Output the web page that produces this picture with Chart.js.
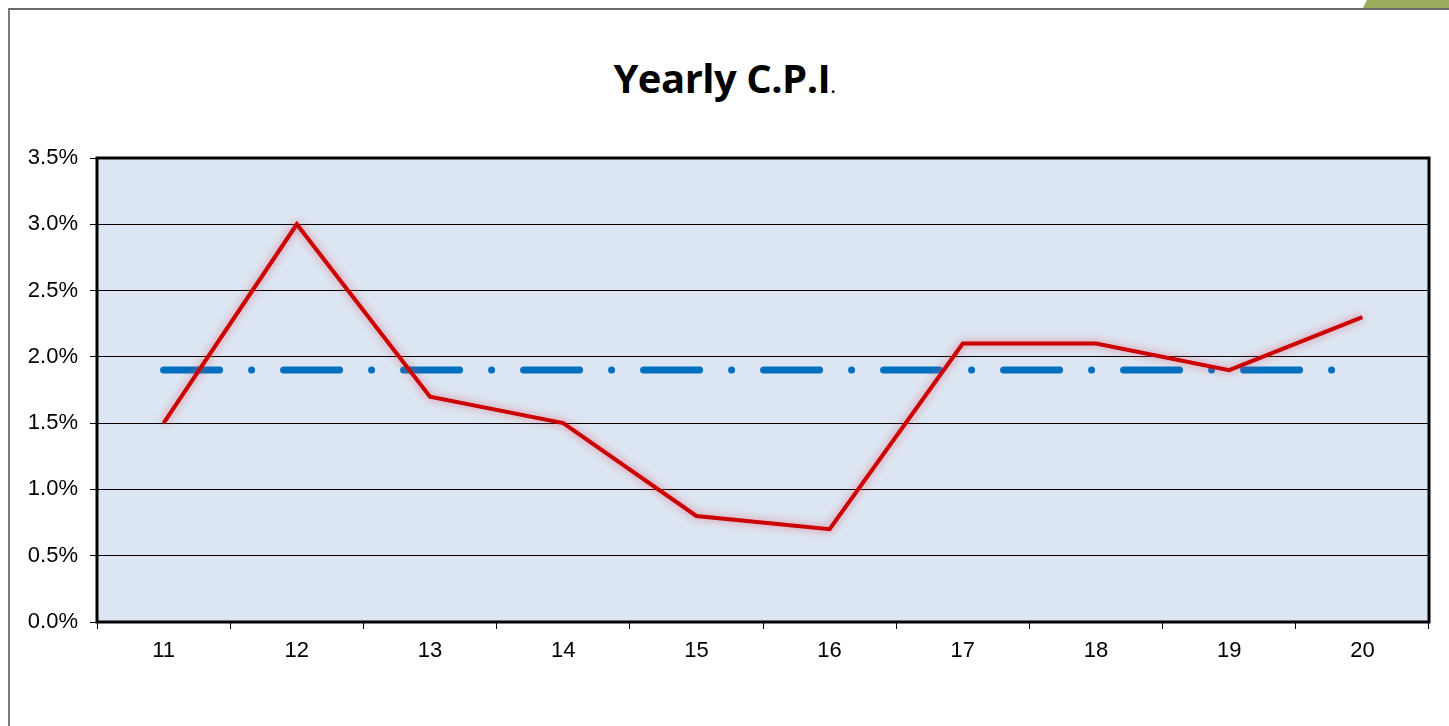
<!DOCTYPE html>
<html>
<head>
<meta charset="utf-8">
<script src="https://cdn.jsdelivr.net/npm/chart.js@4"></script>
<style>
  html, body { margin: 0; padding: 0; background: #fff; }
  #wrap { position: relative; width: 1449px; height: 726px; overflow: hidden; }
  #frame { position: absolute; left: 8px; top: 8px; width: 1460px; height: 740px;
           border-left: 2px solid #7a7a7a; border-top: 2px solid #6a6a6a; }
  #corner { position: absolute; left: 1363px; top: 0; width: 90px; height: 8px; background: #9bab5c;
            clip-path: polygon(4px 0, 100% 0, 100% 100%, 0 100%); }
  #title { position: absolute; left: 0; width: 1449px; top: 50px; text-align: center;
           font: bold 40px "Open Sans", sans-serif; color: #000; letter-spacing: -0.5px; }
  #title span { font-size: 22px; font-weight: normal; }
  canvas { position: absolute; left: 0; top: 0; }
</style>
</head>
<body>
<div id="wrap">
  <div id="frame"></div>
  <div id="corner"></div>
  <div id="title">Yearly C.P.I<span>.</span></div>
  <canvas id="chart" width="1449" height="726"></canvas>
</div>
<script>
// chart data
const categories = ['11', '12', '13', '14', '15', '16', '17', '18', '19', '20'];
const cpiValues = [1.5, 3.0, 1.7, 1.5, 0.8, 0.7, 2.1, 2.1, 1.9, 2.3];
const targetValues = [1.9, 1.9, 1.9, 1.9, 1.9, 1.9, 1.9, 1.9, 1.9, 1.9];
const yTicks = [0, 0.5, 1.0, 1.5, 2.0, 2.5, 3.0, 3.5];

const plotArea = {
    id: 'plotArea',
    beforeDraw(chart) {
        const { ctx, chartArea: a } = chart;
        ctx.save();
        ctx.fillStyle = '#dce6f2';
        ctx.fillRect(a.left, a.top, a.right - a.left, a.bottom - a.top);
        ctx.restore();
    },
    beforeDatasetDraw(chart, args) {
        if (args.index !== 0) return;
        const ctx = chart.ctx;
        ctx.save();
        ctx.shadowColor = 'rgba(225, 80, 100, 0.7)';
        ctx.shadowBlur = 9;
    },
    afterDatasetDraw(chart, args) {
        if (args.index !== 0) return;
        chart.ctx.restore();
    },
    afterDraw(chart) {
        const { ctx, chartArea: a } = chart;
        ctx.save();
        ctx.strokeStyle = '#000';
        ctx.lineWidth = 3;
        ctx.strokeRect(a.left, a.top, a.right - a.left, a.bottom - a.top);
        ctx.restore();
    }
};

new Chart(document.getElementById('chart'), {
    type: 'line',
    data: {
        labels: categories,
        datasets: [
            {
                label: 'CPI',
                data: cpiValues,
                borderColor: '#cc0000',
                borderWidth: 4,
                pointRadius: 0,
                tension: 0,
                borderJoinStyle: 'miter'
            },
            {
                label: 'Target',
                data: targetValues,
                borderColor: '#0070c0',
                borderWidth: 7,
                borderDash: [56, 32, 0, 32],
                borderCapStyle: 'round',
                pointRadius: 0,
                tension: 0
            }
        ]
    },
    options: {
        responsive: false,
        animation: false,
        layout: { padding: { top: 158, right: 20, left: 0, bottom: 0 } },
        plugins: {
            legend: { display: false },
            tooltip: { enabled: false },
            title: { display: false }
        },
        scales: {
            x: {
                offset: true,
                grid: { offset: true, drawOnChartArea: false, color: '#000', lineWidth: 1, tickLength: 7 },
                border: { display: false },
                ticks: { color: '#000', font: { family: 'Liberation Sans', size: 22 }, padding: 9, maxRotation: 0 },
                afterFit(scale) { scale.height = 104; }
            },
            y: {
                min: 0,
                max: 3.5,
                afterBuildTicks(scale) { scale.ticks = yTicks.map(v => ({ value: v })); },
                grid: { color: '#000', lineWidth: 1, tickLength: 7 },
                border: { display: false },
                ticks: {
                    color: '#000',
                    font: { family: 'Liberation Sans', size: 22 },
                    padding: 12,
                    callback: v => v.toFixed(1) + '%'
                },
                afterFit(scale) { scale.width = 97; }
            }
        }
    },
    plugins: [plotArea]
});
</script>
</body>
</html>
